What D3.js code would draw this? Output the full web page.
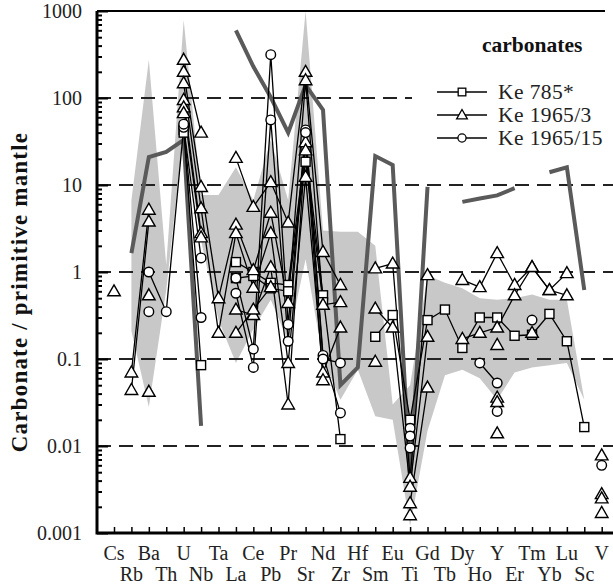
<!DOCTYPE html>
<html lang="en">
<head>
  <meta charset="UTF-8">
  <title>Carbonates spider diagram</title>
  <script src="https://d3js.org/d3.v7.min.js"></script>
  <style>
    body { margin: 0; background: #fff; }
    text { font-family: "Liberation Serif", "Times New Roman", serif; }
  </style>
</head>
<body>
<div id="my_dataviz"></div>
<script>
  // element order on the x axis
  var elements = ["Cs","Rb","Ba","Th","U","Nb","Ta","La","Ce","Pb","Pr","Sr","Nd","Zr","Hf",
                  "Sm","Eu","Ti","Gd","Tb","Dy","Ho","Y","Er","Tm","Yb","Lu","Sc","V"];
  var yTicks = [0.001, 0.01, 0.1, 1, 10, 100, 1000];
  var n = null;

  // gray field (upper and lower limits)
  var fieldUpper = [n,6.7,275,1.2,790,7.7,7.7,16,6.7,33,6.7,1000,3.0,2.9,2.9,2.0,0.03,0.05,0.92,0.75,0.65,0.5,0.48,0.5,0.55,0.48,0.48,0.034,n];
  var fieldLower = [n,0.21,0.028,0.62,43,2.3,0.28,0.09,0.22,0.48,0.16,1.4,0.1,0.034,0.075,0.022,0.02,0.0012,0.015,0.065,0.075,0.06,0.034,0.07,0.08,0.085,0.09,0.034,n];

  // thick dark gray reference pattern
  var refLine = [n,1.65,21,24,33,0.017,n,600,230,102,40,141,73,0.05,0.08,21.5,17,0.004,9.5,n,6.4,7,7.6,9.2,n,14,16,0.62,n];

  // Ke 785*
  var sq1 = [n,n,n,n,43,0.085,n,1.3,1.0,0.75,0.71,27,0.54,0.012,n,0.18,0.32,0.02,0.28,0.37,0.134,0.3,0.3,0.185,0.19,0.33,0.16,0.0165,n];
  var sq2 = [n,n,n,n,40,n,n,0.85,0.9,0.65,0.6,18.5,0.45,n,n,n,n,n,n,n,n,n,n,n,n,n,n,n,n];
  // Ke 1965/3
  var tr1 = [n,0.07,5.2,n,275,40,n,20.5,5.6,10.8,3.7,200,1.7,0.71,n,1.1,1.25,0.0043,0.92,n,0.81,0.67,1.65,0.71,1.14,0.62,0.97,n,0.0078];
  var tr2 = [n,0.044,3.8,n,200,9.5,0.5,3.5,1.05,4.8,0.44,160,0.42,0.45,n,0.38,0.23,0.0034,0.18,n,0.17,0.2,0.23,0.54,1.14,0.62,0.54,n,0.0028];
  var tr3 = [0.6,n,0.54,n,148,5.4,0.2,2.8,0.66,2.8,0.09,12.4,0.07,0.23,n,0.093,n,0.0022,0.047,n,n,n,0.036,n,0.2,n,n,n,0.0025];
  var tr4 = [n,n,0.042,n,95,2.8,n,0.37,0.32,1.14,0.03,31,0.057,n,n,n,n,0.0016,n,n,n,n,0.014,n,n,n,n,n,0.0017];
  var tr5 = [n,n,n,n,78,2.5,n,0.2,0.37,0.67,n,25,n,n,n,n,n,n,n,n,n,n,0.145,n,n,n,n,n,n];
  var tr6 = [n,n,n,n,67,n,n,n,n,n,n,n,n,n,n,n,n,n,n,n,n,n,0.032,n,n,n,n,n,n];
  // Ke 1965/15
  var ci1 = [n,n,1.0,0.35,46,1.45,n,0.85,0.13,315,0.25,43,0.11,0.024,n,n,n,0.016,n,n,n,0.09,0.053,n,n,n,n,n,0.006];
  var ci2 = [n,n,0.35,n,50,0.3,n,0.57,0.08,56,0.16,40,0.1,0.09,n,n,n,0.013,n,n,n,n,0.025,n,0.28,n,n,n,n];
  var ci3 = [n,n,n,n,n,n,n,n,n,n,n,n,n,n,n,n,n,0.0095,n,n,n,n,n,n,n,n,n,n,n];

  var series = [
    {marker: "square", values: sq1}, {marker: "square", values: sq2},
    {marker: "triangle", values: tr1}, {marker: "triangle", values: tr2},
    {marker: "triangle", values: tr3}, {marker: "triangle", values: tr4},
    {marker: "triangle", values: tr5}, {marker: "triangle", values: tr6},
    {marker: "circle", values: ci1}, {marker: "circle", values: ci2},
    {marker: "circle", values: ci3}
  ];
  var legendItems = [
    {marker: "square", label: "Ke 785*"},
    {marker: "triangle", label: "Ke 1965/3"},
    {marker: "circle", label: "Ke 1965/15"}
  ];

  var W = 613, H = 586;
  var pLeft = 97, pTop = 11, pBottom = 533, pRight = 613;

  var svg = d3.select("#my_dataviz")
    .append("svg")
    .attr("width", W)
    .attr("height", H);

  var x = d3.scalePoint()
    .domain(elements)
    .range([114, 601.7]);

  var y = d3.scaleLog()
    .domain([0.001, 1000])
    .range([pBottom, pTop]);

  // gray field
  var fieldPts = elements.map(function(e, i) {
    return {e: e, hi: fieldUpper[i], lo: fieldLower[i]};
  });
  svg.append("path")
    .datum(fieldPts)
    .attr("fill", "#c8c8c8")
    .attr("d", d3.area()
      .defined(function(d) { return d.hi != null; })
      .x(function(d) { return x(d.e); })
      .y0(function(d) { return y(d.lo); })
      .y1(function(d) { return y(d.hi); }));

  // dashed lines
  [100, 10, 1, 0.1, 0.01].forEach(function(v) {
    svg.append("line")
      .attr("x1", pLeft).attr("x2", v == 100 ? 412 : pRight)
      .attr("y1", y(v)).attr("y2", y(v))
      .attr("stroke", "#222")
      .attr("stroke-width", 2)
      .attr("stroke-dasharray", "14,8");
  });

  // reference pattern
  var line = d3.line()
    .defined(function(d) { return d.v != null; })
    .x(function(d) { return x(d.e); })
    .y(function(d) { return y(d.v); });

  svg.append("path")
    .datum(elements.map(function(e, i) { return {e: e, v: refLine[i]}; }))
    .attr("fill", "none")
    .attr("stroke", "#5a5a5a")
    .attr("stroke-width", 4)
    .attr("d", line);

  // sample lines
  series.forEach(function(s) {
    svg.append("path")
      .datum(elements.map(function(e, i) { return {e: e, v: s.values[i]}; }))
      .attr("fill", "none")
      .attr("stroke", "#000")
      .attr("stroke-width", 1.3)
      .attr("d", line);
  });

  function drawMarker(g, type, cx, cy, s) {
    s = s || 1;
    if (type == "square") {
      g.append("rect").attr("x", cx - 4.5 * s).attr("y", cy - 4.5 * s)
        .attr("width", 9 * s).attr("height", 9 * s);
    } else if (type == "triangle") {
      g.append("path").attr("d", "M" + cx + "," + (cy - 6.5 * s) + "L" + (cx + 6.3 * s) + "," + (cy + 4.5 * s) +
        "L" + (cx - 6.3 * s) + "," + (cy + 4.5 * s) + "Z");
    } else {
      g.append("circle").attr("cx", cx).attr("cy", cy).attr("r", 4.8 * s);
    }
  }

  var marks = svg.append("g")
    .attr("fill", "#fff")
    .attr("stroke", "#000")
    .attr("stroke-width", 1.4);
  series.forEach(function(s) {
    s.values.forEach(function(v, i) {
      if (v != null) drawMarker(marks, s.marker, x(elements[i]), y(v));
    });
  });

  // Y axis
  var minor = [];
  for (var p = -3; p < 3; p++) {
    for (var k = 2; k < 10; k++) minor.push(k * Math.pow(10, p));
  }
  svg.append("g")
    .attr("transform", "translate(" + pLeft + ",0)")
    .call(d3.axisLeft(y).tickValues(minor).tickSize(-5).tickFormat(""))
    .call(function(g) { g.select(".domain").remove(); })
    .selectAll("line").attr("stroke-width", 2);

  var yAxis = svg.append("g")
    .attr("transform", "translate(" + pLeft + ",0)")
    .call(d3.axisLeft(y).tickValues(yTicks).tickSize(-11).tickPadding(15)
      .tickFormat(function(d) { return d >= 1 ? d3.format("d")(d) : String(+d.toPrecision(1)); }));
  yAxis.select(".domain").remove();
  yAxis.selectAll("line").attr("stroke-width", 2);
  yAxis.selectAll("text")
    .style("font-family", "Liberation Serif")
    .style("font-size", "20px")
    .attr("fill", "#222");

  // X axis
  var xAxis = svg.append("g")
    .attr("transform", "translate(0," + pBottom + ")")
    .call(d3.axisBottom(x).tickSize(-6).tickFormat(""));
  xAxis.select(".domain").remove();
  xAxis.selectAll("line").attr("stroke-width", 1.5);

  svg.append("g").selectAll("text")
    .data(elements)
    .enter()
    .append("text")
    .attr("x", function(d) { return x(d); })
    .attr("y", function(d, i) { return i % 2 == 0 ? 560 : 581; })
    .attr("text-anchor", "middle")
    .style("font-size", "20px")
    .attr("fill", "#222")
    .text(function(d) { return d; });

  // frame
  svg.append("path")
    .attr("d", "M" + pLeft + "," + pTop + "V" + pBottom + "H" + pRight)
    .attr("fill", "none")
    .attr("stroke", "#000")
    .attr("stroke-width", 3);
  svg.append("line")
    .attr("x1", pLeft).attr("x2", 605).attr("y1", pTop).attr("y2", pTop)
    .attr("stroke", "#000").attr("stroke-width", 2);

  // y title
  svg.append("text")
    .attr("transform", "translate(27,292) rotate(-90)")
    .attr("text-anchor", "middle")
    .style("font-size", "23px")
    .style("font-weight", "bold")
    .style("letter-spacing", "1.2px")
    .attr("fill", "#111")
    .text("Carbonate / primitive mantle");

  // legend
  svg.append("text")
    .attr("x", 482).attr("y", 52)
    .style("font-size", "21.5px")
    .style("font-weight", "bold")
    .attr("fill", "#111")
    .text("carbonates");

  var leg = svg.append("g");
  legendItems.forEach(function(d, i) {
    var ly = 92 + i * 23;
    leg.append("line")
      .attr("x1", 437).attr("x2", 487).attr("y1", ly).attr("y2", ly)
      .attr("stroke", "#000").attr("stroke-width", 1.3);
    var gm = leg.append("g").attr("fill", "#fff").attr("stroke", "#000").attr("stroke-width", 1.3);
    drawMarker(gm, d.marker, 462, ly, 0.85);
    leg.append("text")
      .attr("x", 498).attr("y", ly + 7)
      .style("font-size", "21.5px")
      .style("letter-spacing", "0.4px")
      .attr("fill", "#222")
      .text(d.label);
  });
</script>
</body>
</html>
